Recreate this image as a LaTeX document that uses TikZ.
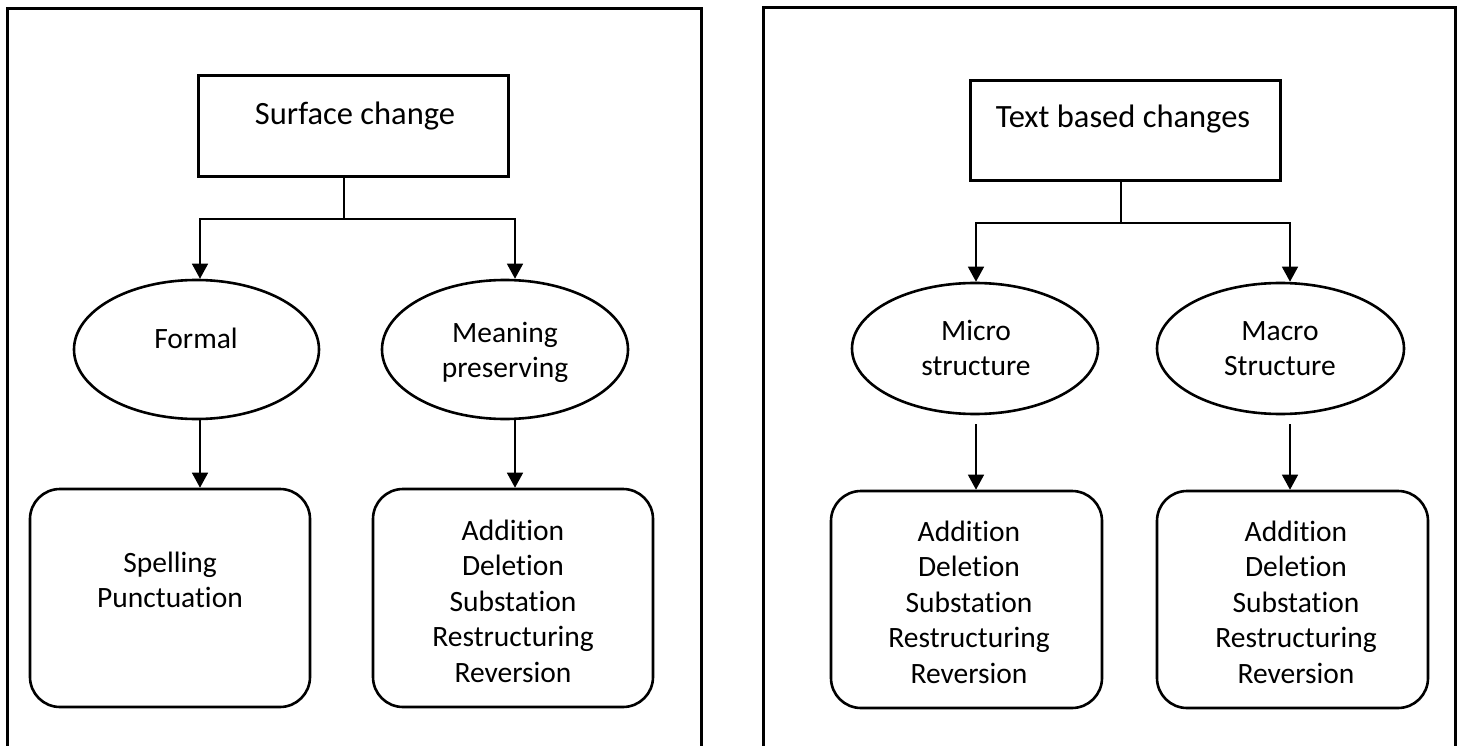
\documentclass[tikz,border=0pt]{standalone}
\usepackage{fontspec}
\setmainfont[Ligatures=NoCommon]{Carlito}
\usetikzlibrary{arrows.meta,shapes.geometric}
\newcommand{\mylines}[1]{\begin{tabular}[t]{@{}c@{}}#1\end{tabular}}
\begin{document}
\begin{tikzpicture}[x=1pt,y=-1pt,
  frame/.style={line width=3pt},
  topbox/.style={draw, line width=3pt, rectangle, inner sep=0pt},
  oval/.style={draw, line width=2.6pt, ellipse, inner sep=0pt},
  listbox/.style={draw, line width=2.6pt, rectangle, rounded corners=30pt, inner sep=0pt},
  link/.style={line width=1.5pt},
  arr/.style={line width=1.5pt, -{Triangle[width=16pt,length=15pt]}},
  toptext/.style={font=\fontsize{32.5}{39}\selectfont, anchor=base, inner sep=0pt},
  bodytext/.style={font=\fontsize{29.5}{35.5}\selectfont, anchor=base, inner sep=0pt},
]
\useasboundingbox (0,0) rectangle (1462,746);
\fill[white] (0,0) rectangle (1462,746);

% outer frames (open at the bottom edge)
\draw[frame] (7,770) -- (7,9) -- (701,9) -- (701,770);
\draw[frame] (763,770) -- (763,8) -- (1455,8) -- (1455,770);

% ---------- left panel ----------
\node[topbox, minimum width=310pt, minimum height=101pt] (sc) at (353,126.5) {};
\node[toptext] (sct) at (355,125) {Surface change};

\node[oval, minimum width=245pt, minimum height=139pt] (formal) at (196.5,349.5) {};
\node[bodytext] (formalt) at (196,348) {Formal};
\node[oval, minimum width=246pt, minimum height=139pt] (mp) at (505,349.5) {};
\node[bodytext] (mpt) at (505,342) {\mylines{Meaning\\preserving}};

\node[listbox, minimum width=280pt, minimum height=218pt] (spell) at (170,598) {};
\node[bodytext] (spellt) at (170,572) {\mylines{Spelling\\Punctuation}};
\node[listbox, minimum width=280pt, minimum height=218pt] (mbox) at (513,598) {};
\node[bodytext] (mboxt) at (513,540) {\mylines{Addition\\Deletion\\Substation\\Restructuring\\Reversion}};

\coordinate (jl) at (344,219);
\draw[link] ([xshift=-9pt]sc.south) -- (jl);
\draw[arr] (jl) -| ([xshift=3.5pt]formal.north);
\draw[arr] (jl) -| ([xshift=10pt]mp.north);
\draw[arr] ([xshift=3.5pt]formal.south) -- ([xshift=30pt]spell.north);
\draw[arr] ([xshift=10pt]mp.south) -- ([xshift=2pt]mbox.north);

% ---------- right panel ----------
\node[topbox, minimum width=310pt, minimum height=100pt] (tb) at (1125,131) {};
\node[toptext] (tbt) at (1123,128) {Text based changes};

\node[oval, minimum width=246pt, minimum height=131pt] (micro) at (975,348.5) {};
\node[bodytext] (microt) at (976,340) {\mylines{Micro\\structure}};
\node[oval, minimum width=247pt, minimum height=131pt] (macro) at (1280.5,348.5) {};
\node[bodytext] (macrot) at (1280,340) {\mylines{Macro\\Structure}};

\node[listbox, minimum width=271pt, minimum height=217pt] (mibox) at (966.5,599.5) {};
\node[bodytext] (miboxt) at (969,541) {\mylines{Addition\\Deletion\\Substation\\Restructuring\\Reversion}};
\node[listbox, minimum width=271pt, minimum height=217pt] (mabox) at (1292.5,599.5) {};
\node[bodytext] (maboxt) at (1296,541) {\mylines{Addition\\Deletion\\Substation\\Restructuring\\Reversion}};

\coordinate (jr) at (1121,223);
\draw[link] ([xshift=-4pt]tb.south) -- (jr);
\draw[arr] (jr) -| ([xshift=1pt]micro.north);
\draw[arr] (jr) -| ([xshift=9.5pt]macro.north);
\draw[arr] ([xshift=1pt,yshift=-9pt]micro.south) -- ([xshift=9.5pt]mibox.north);
\draw[arr] ([xshift=9.5pt,yshift=-9pt]macro.south) -- ([xshift=-2.5pt]mabox.north);
\end{tikzpicture}
\end{document}
